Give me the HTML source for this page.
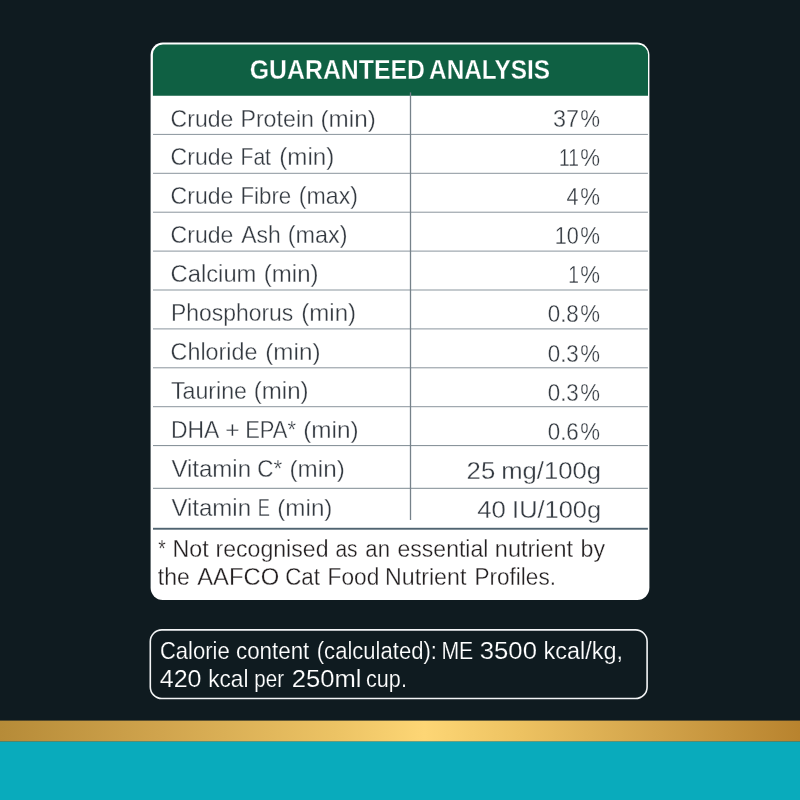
<!DOCTYPE html>
<html><head><meta charset="utf-8"><title>Guaranteed Analysis</title>
<style>
html,body{margin:0;padding:0;}
body{width:800px;height:800px;position:relative;overflow:hidden;background:#0f1b20;font-family:"Liberation Sans",sans-serif;}
.teal{position:absolute;left:0;top:742px;width:800px;height:58px;background:#09abbc;}
svg{position:absolute;left:0;top:0;}
text{font-family:"Liberation Sans",sans-serif;white-space:pre;}
.lab{fill:#333940;font-size:24px;stroke:#fff;stroke-width:0.32px;}
.val{fill:#353b42;font-size:24.6px;stroke:#fff;stroke-width:0.3px;}
.note{fill:#231f20;font-size:24.8px;stroke:#fff;stroke-width:0.3px;}
.ct{fill:#fff;font-size:24.4px;stroke:#0f1b20;stroke-width:0.2px;}
.ht{fill:#fff;font-size:27.2px;font-weight:bold;stroke:#0f6043;stroke-width:0.3px;}
</style></head><body>
<div class="teal"></div>
<svg width="800" height="800" viewBox="0 0 800 800">
<defs><linearGradient id="gold" x1="0" y1="0" x2="1" y2="0">
<stop offset="0" stop-color="#b68b38"/><stop offset="0.2" stop-color="#d0a44d"/><stop offset="0.42" stop-color="#ecc364"/><stop offset="0.53" stop-color="#fdd675"/><stop offset="0.65" stop-color="#edc261"/><stop offset="0.82" stop-color="#d2a34a"/><stop offset="1" stop-color="#b8832e"/>
</linearGradient></defs>
<rect x="0" y="741.3" width="800" height="2" fill="#09abbc"/>
<rect x="0" y="720.6" width="800" height="20.8" fill="url(#gold)"/>
<rect x="150.6" y="42.6" width="498.8" height="557.4" rx="12.2" fill="#fff"/>
<path d="M152.9 95.7 V54.6 a10 10 0 0 1 10 -10 H638 a10 10 0 0 1 10 10 V95.7 Z" fill="#0f6043"/>
<rect x="153" y="133.90" width="494.9" height="1" fill="#8a959d"/>
<rect x="153" y="172.80" width="494.9" height="1" fill="#8a959d"/>
<rect x="153" y="211.70" width="494.9" height="1" fill="#8a959d"/>
<rect x="153" y="250.60" width="494.9" height="1" fill="#8a959d"/>
<rect x="153" y="289.50" width="494.9" height="1" fill="#8a959d"/>
<rect x="153" y="328.40" width="494.9" height="1" fill="#8a959d"/>
<rect x="153" y="367.30" width="494.9" height="1" fill="#8a959d"/>
<rect x="153" y="406.20" width="494.9" height="1" fill="#8a959d"/>
<rect x="153" y="445.10" width="494.9" height="1" fill="#7e8a92"/>
<rect x="153" y="487.80" width="494.9" height="1" fill="#7e8a92"/>
<rect x="409.85" y="92.4" width="1.3" height="427.6" fill="#76828a"/>
<rect x="153" y="527.8" width="494.9" height="1.9" fill="#506471"/>
<rect x="150.3" y="629.9" width="496.8" height="68.6" rx="11.6" fill="none" stroke="#f2f4f5" stroke-width="1.6"/>
<text class="lab" transform="translate(170.60 126.50) scale(0.9597 1)">Crude</text>
<text class="lab" transform="translate(240.39 126.50) scale(0.9680 1)">Protein</text>
<text class="lab" transform="translate(320.54 126.50) scale(1.0107 1)">(min)</text>
<text class="lab" transform="translate(170.60 165.40) scale(0.9597 1)">Crude</text>
<text class="lab" transform="translate(240.57 165.40) scale(0.8763 1)">Fat</text>
<text class="lab" transform="translate(279.30 165.40) scale(1.0059 1)">(min)</text>
<text class="lab" transform="translate(170.60 204.30) scale(0.9597 1)">Crude</text>
<text class="lab" transform="translate(240.46 204.30) scale(0.9298 1)">Fibre</text>
<text class="lab" transform="translate(298.86 204.30) scale(0.9648 1)">(max)</text>
<text class="lab" transform="translate(170.60 243.20) scale(0.9597 1)">Crude</text>
<text class="lab" transform="translate(241.30 243.20) scale(0.9548 1)">Ash</text>
<text class="lab" transform="translate(287.80 243.20) scale(0.9742 1)">(max)</text>
<text class="lab" transform="translate(170.56 282.10) scale(0.9914 1)">Calcium</text>
<text class="lab" transform="translate(263.86 282.10) scale(1.0011 1)">(min)</text>
<text class="lab" transform="translate(170.97 321.00) scale(0.9550 1)">Phosphorus</text>
<text class="lab" transform="translate(301.26 321.00) scale(1.0020 1)">(min)</text>
<text class="lab" transform="translate(170.58 359.90) scale(0.9730 1)">Chloride</text>
<text class="lab" transform="translate(265.29 359.90) scale(1.0107 1)">(min)</text>
<text class="lab" transform="translate(170.94 398.80) scale(0.9668 1)">Taurine</text>
<text class="lab" transform="translate(253.76 398.80) scale(1.0030 1)">(min)</text>
<text class="lab" transform="translate(170.97 437.70) scale(0.9544 1)">DHA</text>
<text class="lab" transform="translate(225.27 437.70) scale(1.0208 1)">+</text>
<text class="lab" transform="translate(245.14 437.70) scale(0.9150 1)">EPA*</text>
<text class="lab" transform="translate(303.14 437.70) scale(1.0146 1)">(min)</text>
<text class="lab" transform="translate(171.40 476.90) scale(1.0013 1)">Vitamin</text>
<text class="lab" transform="translate(257.17 476.90) scale(0.9385 1)">C*</text>
<text class="lab" transform="translate(289.54 476.90) scale(1.0107 1)">(min)</text>
<text class="lab" transform="translate(171.40 516.25) scale(1.0013 1)">Vitamin</text>
<text class="lab" transform="translate(257.74 516.25) scale(0.7614 1)">E</text>
<text class="lab" transform="translate(277.24 516.25) scale(1.0107 1)">(min)</text>
<text class="val" transform="translate(553.05 126.80) scale(0.9514 1)">37</text>
<text class="val" transform="translate(580.33 126.80) scale(0.9036 1)">%</text>
<text class="val" transform="translate(558.97 165.93) scale(0.7800 1)">11</text>
<text class="val" transform="translate(580.33 165.93) scale(0.9036 1)">%</text>
<text class="val" transform="translate(566.57 205.06) scale(0.8768 1)">4</text>
<text class="val" transform="translate(580.33 205.06) scale(0.9036 1)">%</text>
<text class="val" transform="translate(554.74 244.19) scale(0.8787 1)">10</text>
<text class="val" transform="translate(580.33 244.19) scale(0.9036 1)">%</text>
<text class="val" transform="translate(568.21 283.32) scale(0.7800 1)">1</text>
<text class="val" transform="translate(580.33 283.32) scale(0.9036 1)">%</text>
<text class="val" transform="translate(547.73 322.45) scale(0.9088 1)">0.8</text>
<text class="val" transform="translate(580.33 322.45) scale(0.9036 1)">%</text>
<text class="val" transform="translate(547.73 361.58) scale(0.9088 1)">0.3</text>
<text class="val" transform="translate(580.33 361.58) scale(0.9036 1)">%</text>
<text class="val" transform="translate(547.73 400.71) scale(0.9088 1)">0.3</text>
<text class="val" transform="translate(580.33 400.71) scale(0.9036 1)">%</text>
<text class="val" transform="translate(547.73 439.84) scale(0.9088 1)">0.6</text>
<text class="val" transform="translate(580.33 439.84) scale(0.9036 1)">%</text>
<text class="val" transform="translate(466.61 479.00) scale(1.0458 1)">25</text>
<text class="val" transform="translate(501.21 479.00) scale(1.0439 1)">mg/100g</text>
<text class="val" transform="translate(477.28 517.80) scale(1.0469 1)">40</text>
<text class="val" transform="translate(512.11 517.80) scale(1.0331 1)">IU/100g</text>
<text class="note" transform="translate(158.31 556.50) scale(0.7738 1)">*</text>
<text class="note" transform="translate(172.54 556.50) scale(0.9369 1)">Not</text>
<text class="note" transform="translate(215.51 556.50) scale(0.9317 1)">recognised</text>
<text class="note" transform="translate(335.41 556.50) scale(0.8444 1)">as</text>
<text class="note" transform="translate(365.36 556.50) scale(0.8928 1)">an</text>
<text class="note" transform="translate(397.58 556.50) scale(0.9271 1)">essential</text>
<text class="note" transform="translate(494.84 556.50) scale(0.9454 1)">nutrient</text>
<text class="note" transform="translate(580.51 556.50) scale(0.9350 1)">by</text>
<text class="note" transform="translate(157.87 584.75) scale(0.9271 1)">the</text>
<text class="note" transform="translate(197.25 584.75) scale(0.9597 1)">AAFCO</text>
<text class="note" transform="translate(285.13 584.75) scale(0.9023 1)">Cat</text>
<text class="note" transform="translate(327.58 584.75) scale(0.9163 1)">Food</text>
<text class="note" transform="translate(385.04 584.75) scale(0.9375 1)">Nutrient</text>
<text class="note" transform="translate(474.44 584.75) scale(0.9102 1)">Profiles.</text>
<text class="ct" transform="translate(159.90 658.75) scale(0.9043 1)">Calorie</text>
<text class="ct" transform="translate(236.01 658.75) scale(0.9164 1)">content</text>
<text class="ct" transform="translate(316.78 658.75) scale(0.9041 1)">(calculated):</text>
<text class="ct" transform="translate(441.40 658.75) scale(0.8712 1)">ME</text>
<text class="ct" transform="translate(479.83 658.75) scale(1.0519 1)">3500</text>
<text class="ct" transform="translate(543.59 658.75) scale(0.9607 1)">kcal/kg,</text>
<text class="ct" transform="translate(159.75 686.60) scale(1.0257 1)">420</text>
<text class="ct" transform="translate(208.24 686.60) scale(0.9280 1)">kcal</text>
<text class="ct" transform="translate(254.37 686.60) scale(0.8407 1)">per</text>
<text class="ct" transform="translate(291.82 686.60) scale(1.0499 1)">250ml</text>
<text class="ct" transform="translate(366.04 686.60) scale(0.8860 1)">cup.</text>
<text class="ht" transform="translate(249.71 78.90) scale(0.9139 1)">GUARANTEED</text>
<text class="ht" transform="translate(429.01 78.90) scale(0.8975 1)">ANALYSIS</text>
</svg>
</body></html>
